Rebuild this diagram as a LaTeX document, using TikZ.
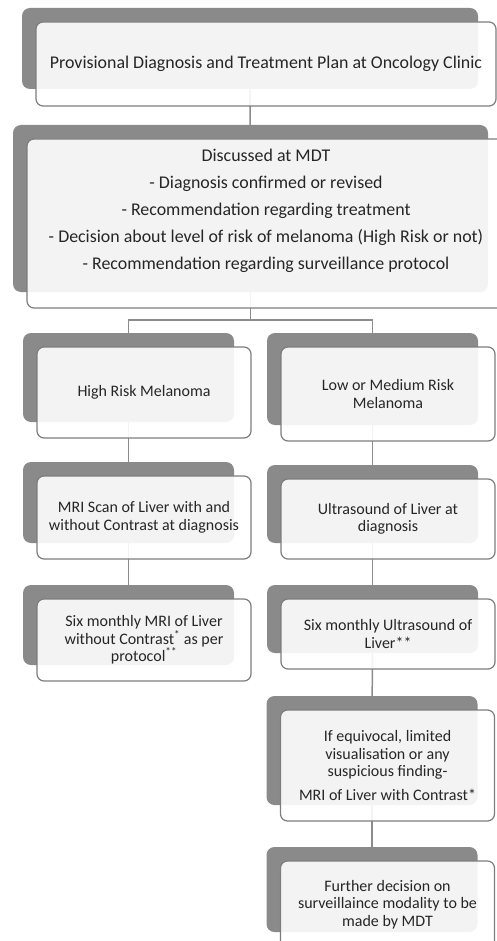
\documentclass[tikz,border=0pt]{standalone}
\usepackage{fontspec}
\setmainfont{Carlito}
\usetikzlibrary{backgrounds}
\definecolor{backgray}{RGB}{138,138,138}
\definecolor{edgegray}{RGB}{125,125,125}
\definecolor{linkgray}{RGB}{140,140,140}
\definecolor{textgray}{RGB}{38,38,38}

\begin{document}
\begin{tikzpicture}[x=1pt, y=-1pt,
    back/.style={fill=backgray, rounded corners=8pt, inner sep=0pt, outer sep=0pt},
    front/.style={draw=edgegray, line width=1.2pt, fill=white, fill opacity=0.9, text opacity=1,
        rounded corners=7pt, inner sep=0pt, outer sep=0pt, align=center, text=textgray,
        font=\fontsize{16}{17.6}\selectfont},
    bigfront/.style={front, font=\fontsize{17.9}{21.5}\selectfont},
    colback/.style={back, minimum width=211pt},
    colfront/.style={front, minimum width=214pt},
    link/.style={draw=linkgray, line width=1.5pt}]

    \useasboundingbox (0,0) rectangle (497,941);
    \clip (0,0) rectangle (497,941);

    % Oncology clinic
    \node[back, minimum width=456pt, minimum height=81pt] (clinic-back) at (250,48.5) {};
    \node[bigfront, minimum width=460pt, minimum height=84pt] (clinic) at ([shift={(16,15.5)}]clinic-back.center)
        {Provisional Diagnosis and Treatment Plan at Oncology Clinic};

    % MDT
    \node[back, minimum width=475pt, minimum height=167pt] (mdt-back) at (250.5,208.5) {};
    \node[bigfront, minimum width=478pt, minimum height=169pt] (mdt) at ([shift={(15.5,15)}]mdt-back.center)
        {Discussed at MDT\\[5.5pt]
         - Diagnosis confirmed or revised\\[5.5pt]
         - Recommendation regarding treatment\\[5.5pt]
         - Decision about level of risk of melanoma (High Risk or not)\\[5.5pt]
         - Recommendation regarding surveillance protocol\\[6.5pt]\mbox{}};

    % Left column: high risk
    \node[colback, minimum height=89pt] (high-back) at (128.5,377.5) {};
    \node[colfront, minimum height=91pt] (high) at ([shift={(15.5,15)}]high-back.center) {High Risk Melanoma};

    \node[colback, minimum height=81pt] (mriscan-back) at (128.5,502.5) {};
    \node[colfront, minimum height=83pt] (mriscan) at ([shift={(15.5,15)}]mriscan-back.center)
        {MRI Scan of Liver with and\\without Contrast at diagnosis};

    \node[colback, minimum height=80pt] (mrisix-back) at (128.5,625) {};
    \node[colfront, minimum height=82pt] (mrisix) at ([shift={(15.5,15)}]mrisix-back.center)
        {Six monthly MRI of Liver\\without Contrast\textsuperscript{*} as per\\protocol\textsuperscript{**}};

    % Right column: low or medium risk
    \node[colback, minimum height=92pt] (low-back) at (372.5,379) {};
    \node[colfront, minimum height=94pt] (low) at ([shift={(15.5,15)}]low-back.center) {Low or Medium Risk\\Melanoma};

    \node[colback, minimum height=78pt] (usscan-back) at (372.5,504) {};
    \node[colfront, minimum height=80pt] (usscan) at ([shift={(15.5,15)}]usscan-back.center)
        {Ultrasound of Liver at\\diagnosis};

    \node[colback, minimum height=68pt] (ussix-back) at (372.5,619) {};
    \node[colfront, minimum height=70pt] (ussix) at ([shift={(15.5,15)}]ussix-back.center)
        {Six monthly Ultrasound of\\Liver**};

    \node[colback, minimum height=109pt] (equiv-back) at (372,750.5) {};
    \node[colfront, minimum height=111pt] (equiv) at ([shift={(15.5,15)}]equiv-back.center)
        {If equivocal, limited\\visualisation or any\\suspicious finding-\\[6pt]MRI of Liver with Contrast*};

    \node[colback, minimum height=85pt] (further-back) at (372,889.5) {};
    \node[colfront, minimum height=87pt] (further) at ([shift={(15.5,15)}]further-back.center)
        {Further decision on\\surveillaince modality to be\\made by MDT};

    % Connectors, behind the boxes
    \begin{scope}[on background layer]
        \coordinate (split) at (250.5,320);
        \draw[link] (clinic-back.center) -- (mdt-back.center);
        \draw[link] (mdt-back.center) -- (split);
        \draw[link] (split) -| (high-back.center);
        \draw[link] (split) -| (low-back.center);
        \draw[link] (high-back.center) -- (mriscan-back.center);
        \draw[link] (mriscan-back.center) -- (mrisix-back.center);
        \draw[link] (low-back.center) -- (usscan-back.center);
        \draw[link] (usscan-back.center) -- (ussix-back.center);
        \draw[link] (ussix-back.center) -- (equiv-back.center);
        \draw[link] (equiv-back.center) -- (further-back.center);
    \end{scope}
\end{tikzpicture}
\end{document}
